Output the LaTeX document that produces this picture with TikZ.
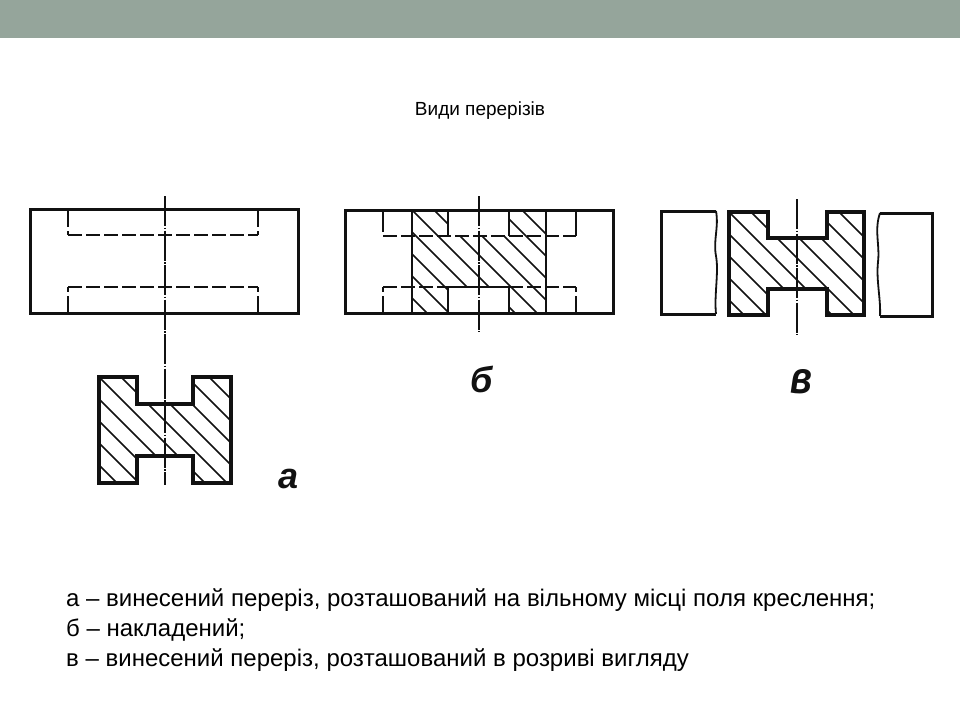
\documentclass[tikz,border=0pt]{standalone}
\usepackage{fontspec}
\setmainfont{Liberation Sans}
\usetikzlibrary{calc}
\definecolor{bandcol}{HTML}{95A59B}
\definecolor{inkcol}{HTML}{111111}
\tikzset{
  x=1pt,y=-1pt,
  thickline/.style={draw=inkcol,line width=3.1pt,line join=miter},
  viewline/.style={draw=inkcol,line width=3.0pt,line join=miter},
  thinline/.style={draw=inkcol,line width=1.8pt},
  hatchline/.style={draw=inkcol,line width=1.5pt},
  hiddenline/.style={draw=inkcol,line width=1.9pt,dash pattern=on 14pt off 4pt},
  axisline/.style={draw=inkcol,line width=1.5pt,dash pattern=on 30pt off 1.5pt on 1.5pt off 1.5pt},
  captionlabel/.style={font=\fontsize{24}{28}\selectfont,anchor=west,inner sep=0pt,text=black},
  sheetletter/.style={font=\fontsize{36}{40}\selectfont\bfseries\itshape,inner sep=0pt,text=inkcol},
}
% hatch: #1 = shift in (x-y), lines at 45 degrees
\newcommand{\hatchfield}[3]{%
  \foreach \c in {-366,-344,...,-140}{
    \draw[hatchline] ({#2+\c+#1},#2) -- ({#3+\c+#1},#3);
  }}
\begin{document}
\begin{tikzpicture}
\useasboundingbox (0,0) rectangle (960,720);
\fill[white] (0,0) rectangle (960,720);
\fill[bandcol] (0,0) rectangle (960,38);
\node[font=\fontsize{19}{22}\selectfont,text=black] (title) at (480,111) {Види перерізів};

% --- a: view
\draw[viewline] (30,209) rectangle (298,313);
\draw[thinline] (68,209) -- (68,227) (258,209) -- (258,227);
\draw[thinline] (68,231) -- (68,235) (258,231) -- (258,235);
\draw[hiddenline] (68,235) -- (258,235);
\draw[hiddenline] (68,287) -- (258,287);
\draw[thinline] (68,287) -- (68,292) (258,287) -- (258,292);
\draw[thinline] (68,296) -- (68,313) (258,296) -- (258,313);
% --- a: section
\begin{scope}
\clip (99,377) -- (137,377) -- (137,404) -- (193,404) -- (193,377) -- (231,377) -- (231,483) -- (193,483) -- (193,456) -- (137,456) -- (137,483) -- (99,483) -- cycle;
\hatchfield{0}{360}{500}
\end{scope}
\draw[thickline] (99,377) -- (137,377) -- (137,404) -- (193,404) -- (193,377) -- (231,377) -- (231,483) -- (193,483) -- (193,456) -- (137,456) -- (137,483) -- (99,483) -- cycle;
\draw[axisline] (165,196) -- (165,485);
\node[sheetletter] (la) at (289,479) {а};

% --- b
\begin{scope}
\clip (412,210) -- (448,210) -- (448,236) -- (509,236) -- (509,210) -- (546,210) -- (546,313) -- (509,313) -- (509,287) -- (448,287) -- (448,313) -- (412,313) -- cycle;
\hatchfield{480}{195}{330}
\end{scope}
\draw[thinline] (383,210) -- (383,232) (576,210) -- (576,236);
\draw[hiddenline] (383,236) -- (576,236);
\draw[hiddenline] (383,287) -- (448,287) (509,287) -- (576,287);
\draw[thinline] (383,287) -- (383,292) (576,287) -- (576,292);
\draw[thinline] (383,296) -- (383,313) (576,296) -- (576,313);
\draw[thinline] (412,210) -- (412,313) (546,210) -- (546,313);
\draw[thinline] (448,210) -- (448,236) (509,210) -- (509,236);
\draw[thinline] (448,313) -- (448,287) -- (509,287) -- (509,313);
\draw[viewline] (345,210) rectangle (613,313);
\draw[axisline] (479,196) -- (479,332);
\node[sheetletter] (lb) at (482,379) {б};

% --- v
\begin{scope}
\clip (729,212) -- (768,212) -- (768,238) -- (827,238) -- (827,212) -- (864,212) -- (864,315) -- (827,315) -- (827,289) -- (768,289) -- (768,315) -- (729,315) -- cycle;
\hatchfield{795}{195}{330}
\end{scope}
\draw[thickline] (729,212) -- (768,212) -- (768,238) -- (827,238) -- (827,212) -- (864,212) -- (864,315) -- (827,315) -- (827,289) -- (768,289) -- (768,315) -- (729,315) -- cycle;
\draw[viewline] (716,211) -- (661,211) -- (661,314) -- (716,314);
\draw[thinline] (716,211) .. controls (719,228) and (713,240) .. (716,256) .. controls (719,272) and (714,295) .. (716,314);
\draw[viewline] (880,213) -- (932,213) -- (932,316) -- (880,316);
\draw[thinline] (880,213) .. controls (874,230) and (880,245) .. (878,262) .. controls (876,280) and (881,300) .. (880,316);
\draw[axisline] (797,199) -- (797,335);
\node[sheetletter,yscale=1.25] (lv) at (801,382) {в};

% --- caption
\node[captionlabel] (c1) at (66,600) {а – винесений переріз, розташований на вільному місці поля креслення;};
\node[captionlabel] (c2) at (66,630) {б – накладений;};
\node[captionlabel] (c3) at (66,660) {в – винесений переріз, розташований в розриві вигляду};
\end{tikzpicture}
\end{document}
